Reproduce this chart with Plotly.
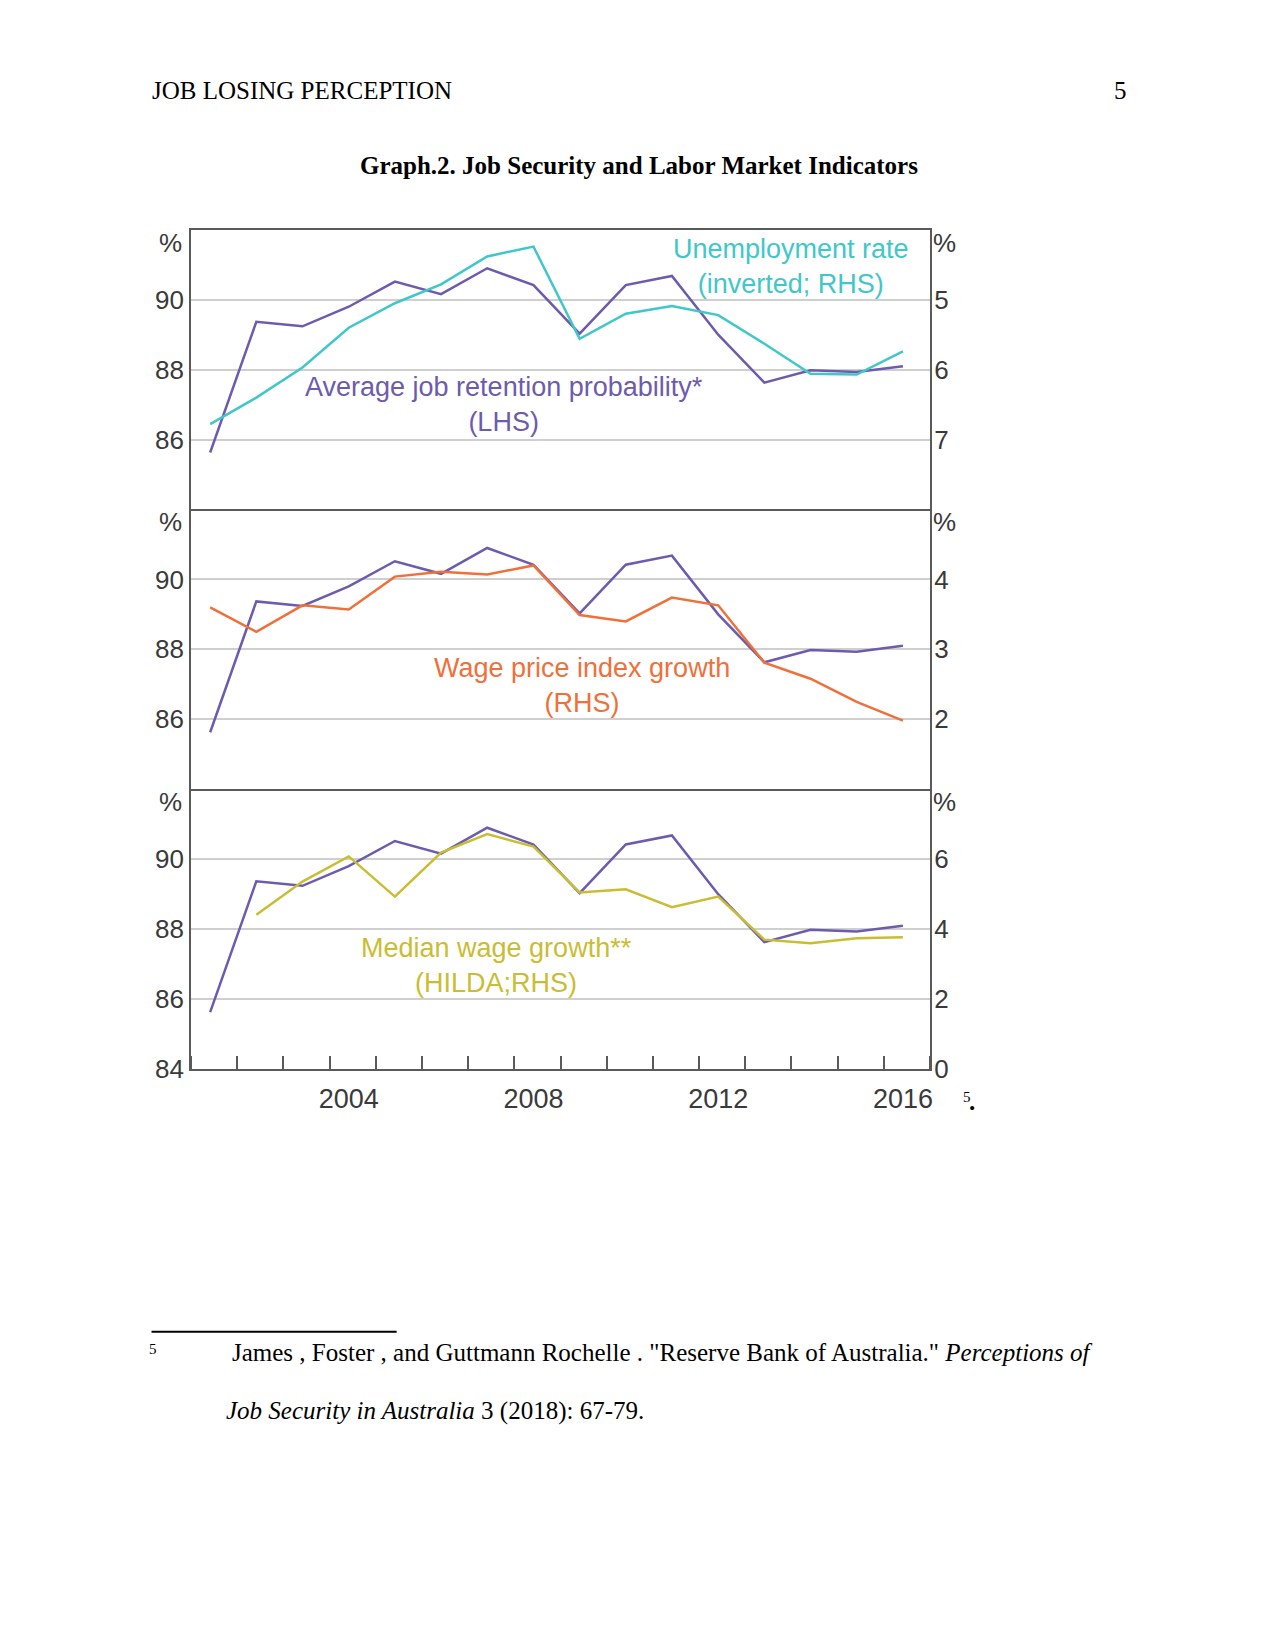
import plotly.graph_objects as go

# ---------------- data ----------------
years = list(range(2001, 2017))
retention = [85.63, 89.37, 89.24, 89.80, 90.52, 90.16, 90.90, 90.42,
             89.03, 90.42, 90.68, 89.00, 87.63, 87.98, 87.93, 88.10]
unemployment = [6.78, 6.40, 5.97, 5.40, 5.05, 4.78, 4.38, 4.24,
                5.56, 5.20, 5.09, 5.22, 5.63, 6.06, 6.07, 5.74]
wpi_growth = [3.60, 3.25, 3.63, 3.57, 4.04, 4.11, 4.07, 4.20,
              3.49, 3.40, 3.74, 3.63, 2.81, 2.58, 2.25, 1.98]
median_wage = [None, 4.41, 5.36, 6.08, 4.93, 6.19, 6.72, 6.36,
               5.05, 5.14, 4.63, 4.93, 3.70, 3.60, 3.74, 3.77]
label_years = [2004, 2008, 2012, 2016]
lhs_ticks = [86, 88, 90]
rhs_ticks_1 = [5, 6, 7]
rhs_ticks_2 = [2, 3, 4]
rhs_ticks_3 = [0, 2, 4, 6]

# ---------------- style ----------------
OFF = 8                      # default body margin of the html page
S = 0.991                    # observed capture scale
W, H = 1275 - 2 * OFF, 1651 - 2 * OFF
PURPLE = "#6D5BAD"
TEAL = "#3FC7C9"
ORANGE = "#F0703A"
OLIVE = "#C9BD33"
GRID = "#CFCFCF"
FRAME = "#5A5A5A"
TICKC = "#3A3A3A"
SANS = "Liberation Sans, Arial, sans-serif"
SERIF = "Liberation Serif, Times New Roman, serif"

def px(x):
    return (x / S - OFF) / W

def py(y):
    return 1 - (y / S - OFF) / H

x_dom = [px(189.8), px(923.8)]
bounds = [229.8, 509.5, 789.3, 1069.2]
panels = []
for i in range(3):
    panels.append([py(bounds[i + 1]), py(bounds[i])])

xdates = [f"{y}-06-01" for y in years]

fig = go.Figure()

series = [
    (unemployment, TEAL),
    (wpi_growth, ORANGE),
    (median_wage, OLIVE),
]
for i, (vals, col) in enumerate(series):
    xa = "x" if i == 0 else f"x{i + 1}"
    yl = "y" if i == 0 else f"y{2 * i + 1}"
    yr = f"y{2 * i + 2}"
    fig.add_trace(go.Scatter(x=xdates, y=retention, mode="lines",
                             line=dict(color=PURPLE, width=2.5),
                             xaxis=xa, yaxis=yl, showlegend=False,
                             hoverinfo="skip"))
    fig.add_trace(go.Scatter(x=xdates, y=vals, mode="lines",
                             line=dict(color=col, width=2.5),
                             xaxis=xa, yaxis=yr, showlegend=False,
                             hoverinfo="skip", connectgaps=False))

tickfont = dict(family=SANS, size=26, color=TICKC)
xtickfont = dict(family=SANS, size=27, color=TICKC)
layout = dict(
    width=W, height=H,
    margin=dict(l=0, r=0, t=0, b=0),
    paper_bgcolor="white", plot_bgcolor="white",
    showlegend=False,
)

rhs_specs = [
    (rhs_ticks_1, [8, 4]),
    (rhs_ticks_2, [1, 5]),
    (rhs_ticks_3, [0, 8]),
]
for i in range(3):
    xname = "xaxis" if i == 0 else f"xaxis{i + 1}"
    ylname = "yaxis" if i == 0 else f"yaxis{2 * i + 1}"
    yrname = f"yaxis{2 * i + 2}"
    yl_id = "y" if i == 0 else f"y{2 * i + 1}"
    bottom = (i == 2)
    xa = dict(
        domain=x_dom, anchor=yl_id, type="date",
        range=["2001-01-01", "2017-01-01"],
        showgrid=False, zeroline=False,
        showline=True, linecolor=FRAME, linewidth=2, mirror=(i == 0),
        ticks="",
        showticklabels=bottom,
        tickvals=[f"{y}-06-01" for y in label_years],
        ticktext=[str(y) for y in label_years],
        tickfont=xtickfont,
        ticklabelstandoff=5,
    )
    if i > 0:
        xa["matches"] = "x"
    if bottom:
        xa["minor"] = dict(ticks="inside", ticklen=13, tickwidth=2,
                           tickcolor=FRAME, dtick="M12",
                           tick0="2001-01-01", showgrid=False)
    layout[xname] = xa
    lt = lhs_ticks + ([84] if bottom else [])
    layout[ylname] = dict(
        domain=panels[i], anchor="x" if i == 0 else f"x{i + 1}",
        range=[84, 92], tickvals=lt, ticktext=[str(v) for v in lt],
        showgrid=True, gridcolor=GRID, gridwidth=2, zeroline=False,
        showline=True, linecolor=FRAME, linewidth=2,
        ticks="", tickfont=tickfont, ticklabelstandoff=0,
    )
    rt, rr = rhs_specs[i]
    layout[yrname] = dict(
        domain=panels[i], anchor="x" if i == 0 else f"x{i + 1}",
        overlaying=yl_id, side="right", range=rr,
        tickvals=rt, ticktext=[str(v) for v in rt],
        showgrid=False, zeroline=False,
        showline=True, linecolor=FRAME, linewidth=2,
        ticks="", tickfont=tickfont, ticklabelstandoff=-3,
    )

fig.update_layout(**layout)

ann = []
# "%" unit labels
for i in range(3):
    top = bounds[i]
    ann.append(dict(text="%", xref="paper", yref="paper",
                    x=px(183), y=py(top + 13), xanchor="right",
                    yanchor="middle", showarrow=False, font=tickfont))
    ann.append(dict(text="%", xref="paper", yref="paper",
                    x=px(925), y=py(top + 13), xanchor="left",
                    yanchor="middle", showarrow=False, font=tickfont))

series_font = lambda c: dict(family=SANS, size=27, color=c)
ann += [
    dict(text="Unemployment rate<br>(inverted; RHS)", x=px(786),
         y=py(266), font=series_font(TEAL)),
    dict(text="Average job retention probability*<br>(LHS)", x=px(501),
         y=py(404), font=series_font(PURPLE)),
    dict(text="Wage price index growth<br>(RHS)", x=px(578),
         y=py(686), font=series_font(ORANGE)),
    dict(text="Median wage growth**<br>(HILDA;RHS)", x=px(493),
         y=py(966), font=series_font(OLIVE)),
]
for a in ann[-4:]:
    a.update(xref="paper", yref="paper", xanchor="center",
             yanchor="middle", showarrow=False, align="center")

page_font = dict(family=SERIF, size=25, color="black")
ann += [
    dict(text="JOB LOSING PERCEPTION", x=px(148.5), y=py(90.5),
         xanchor="left", font=page_font),
    dict(text="5", x=px(1121), y=py(90.5), xanchor="right", font=page_font),
    dict(text="<b>Graph.2. Job Security and Labor Market Indicators</b>",
         x=px(635), y=py(165), xanchor="center", font=page_font),
    dict(text="5", x=px(961), y=py(1097), xanchor="center",
         font=dict(family=SERIF, size=15, color="black")),
    dict(text="<b>.</b>", x=px(966), y=py(1102), xanchor="center",
         font=page_font),
    dict(text="5", x=px(152), y=py(1349), xanchor="center",
         font=dict(family=SERIF, size=15, color="black")),
    dict(text='James , Foster , and Guttmann Rochelle . "Reserve Bank of '
              'Australia." <i>Perceptions of</i>',
         x=px(228.5), y=py(1353), xanchor="left", font=page_font),
    dict(text="<i>Job Security in Australia</i> 3 (2018): 67-79.",
         x=px(222), y=py(1411), xanchor="left", font=page_font),
]
for a in ann[-8:]:
    a.update(xref="paper", yref="paper", yanchor="middle", showarrow=False)

fig.update_layout(
    annotations=ann,
    shapes=[dict(type="line", xref="paper", yref="paper",
                 x0=px(150.5), x1=px(394), y0=py(1332), y1=py(1332),
                 line=dict(color="black", width=2))],
)

fig.write_html("out.html")
